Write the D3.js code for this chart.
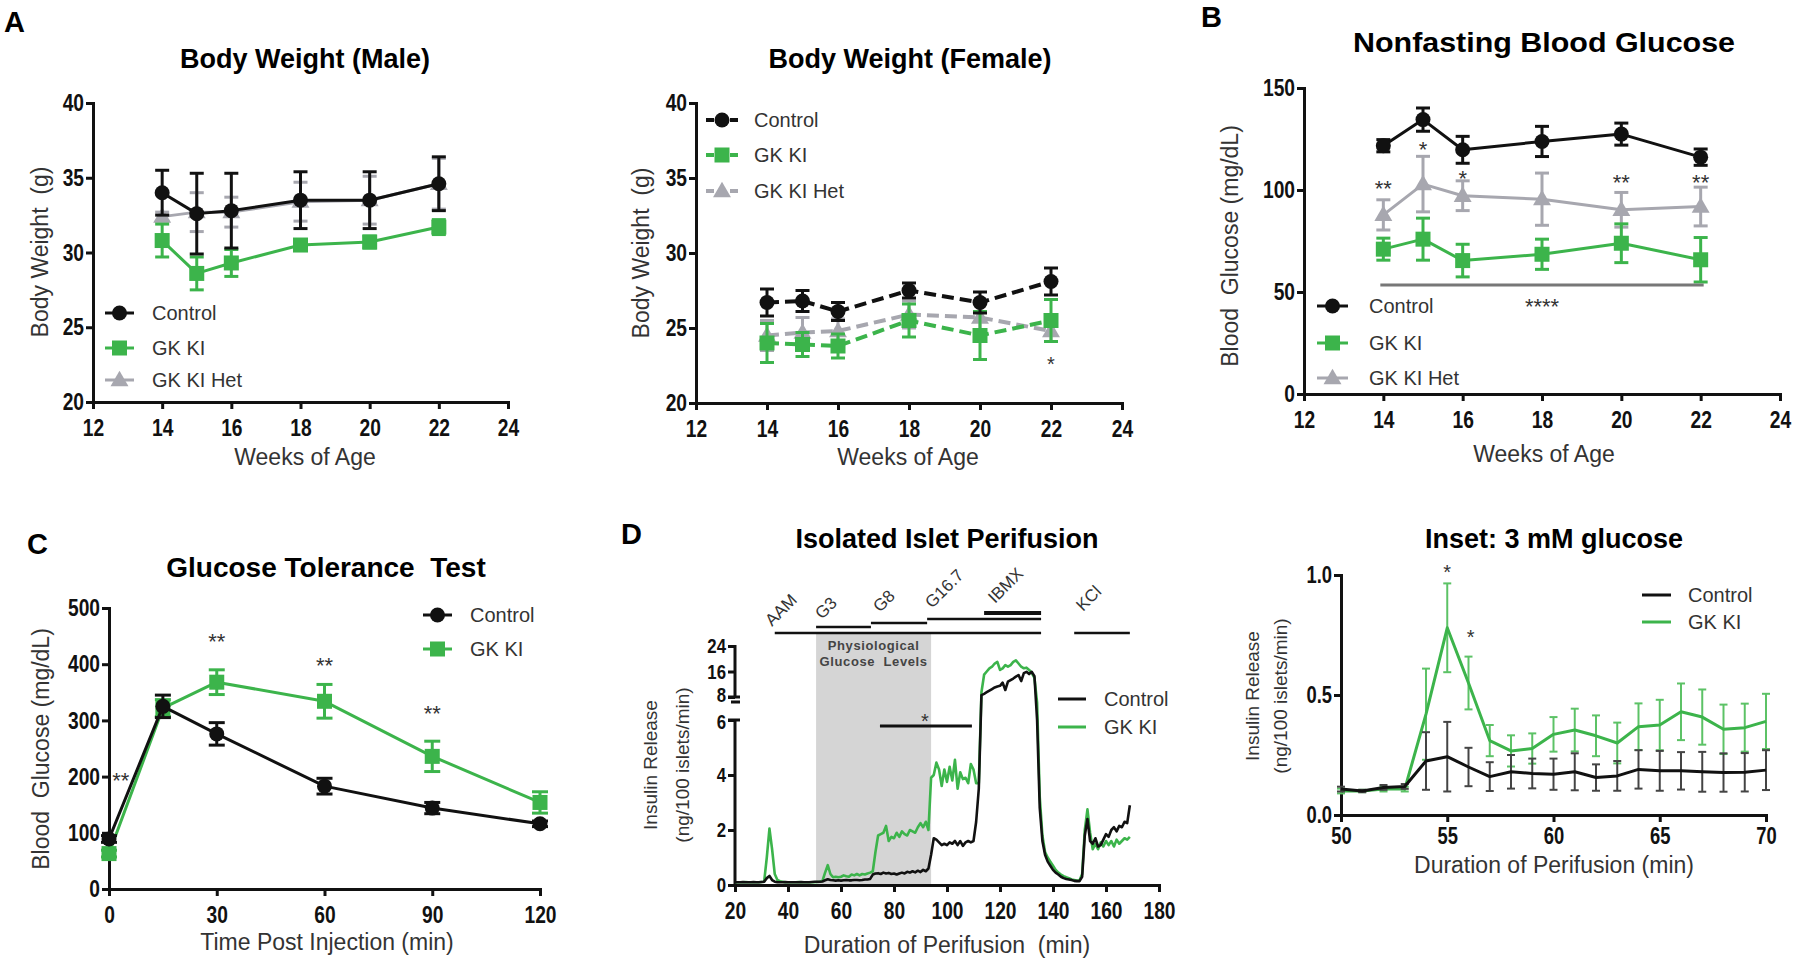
<!DOCTYPE html>
<html><head><meta charset="utf-8">
<script src="https://cdn.jsdelivr.net/npm/d3@7/dist/d3.min.js"></script>
<style>html,body{margin:0;padding:0;background:#fff;} svg{display:block} text{white-space:pre}</style>
</head><body>
<script>
// ================= DATA =================
const weeks = [14, 15, 16, 18, 20, 22];
const ageTicks = [12, 14, 16, 18, 20, 22, 24];
const bwTicks = [20, 25, 30, 35, 40];

const maleControl = [34.0, 32.6, 32.8, 33.5, 33.5, 34.6];
const maleControlSem = [1.5, 2.7, 2.5, 1.9, 1.9, 1.8];
const maleGK = [30.8, 28.6, 29.3, 30.5, 30.7, 31.7];
const maleGKSem = [1.1, 1.1, 0.9, 0.3, 0.4, 0.5];
const maleHet = [32.4, 32.7, 32.7, 33.4, 33.5, 34.6];
const maleHetSem = [0.3, 1.3, 1.0, 1.3, 1.6, 1.7];

const femaleControl = [26.7, 26.8, 26.1, 27.5, 26.7, 28.1];
const femaleControlSem = [0.9, 0.7, 0.6, 0.5, 0.7, 0.9];
const femaleGK = [24.0, 23.9, 23.8, 25.5, 24.5, 25.5];
const femaleGKSem = [1.3, 0.8, 0.8, 1.1, 1.6, 1.4];
const femaleHet = [24.5, 24.7, 24.8, 25.9, 25.7, 24.8];
const femaleHetSem = [1.0, 1.0, 0.8, 0.9, 1.0, 0.7];

const bgTicks = [0, 50, 100, 150];
const bgControl = [121.7, 134.5, 119.7, 123.8, 127.4, 116.1];
const bgControlSem = [3.0, 5.7, 6.6, 7.4, 5.4, 4.0];
const bgGK = [71.0, 75.9, 65.4, 68.5, 73.9, 65.8];
const bgGKSem = [5.4, 10.3, 8.0, 7.4, 9.5, 10.9];
const bgHet = [87.8, 102.9, 97.2, 95.5, 90.3, 91.9];
const bgHetSem = [7.4, 13.6, 7.3, 12.8, 8.5, 9.5];
const bgStars = [{w: 14, t: '**', v: 103}, {w: 15, t: '*', v: 122}, {w: 16, t: '*', v: 108}, {w: 20, t: '**', v: 106}, {w: 22, t: '**', v: 106}];

const gttTime = [0, 15, 30, 60, 90, 120];
const gttXTicks = [0, 30, 60, 90, 120];
const gttYTicks = [0, 100, 200, 300, 400, 500];
const gttControl = [89, 325, 276, 183, 144, 116];
const gttControlSem = [6, 20, 20, 14, 10, 5];
const gttGK = [63, 322, 368, 334, 236, 154];
const gttGKSem = [6, 15, 22, 30, 27, 19];
const gttStars = [{t: 3.3, v: 201}, {t: 30, v: 448}, {t: 60, v: 406}, {t: 90, v: 320}];

const perifStart = 20; // minutes, one sample per minute
const perifXTicks = [20, 40, 60, 80, 100, 120, 140, 160, 180];
const perifYTicks = [0, 2, 4, 6, 8, 16, 24];
const perifControl = [
  0.10,0.10,0.10,0.11,0.10,0.10,0.10,0.11,0.10,0.10,
  0.11,0.12,0.25,0.33,0.18,0.12,0.10,0.10,0.10,0.11,
  0.10,0.10,0.10,0.10,0.10,0.11,0.10,0.10,0.10,0.11,
  0.12,0.12,0.12,0.13,0.17,0.21,0.18,0.17,0.16,0.17,
  0.16,0.17,0.18,0.17,0.17,0.18,0.18,0.17,0.18,0.20,
  0.20,0.22,0.38,0.42,0.43,0.40,0.45,0.42,0.44,0.40,
  0.42,0.38,0.42,0.45,0.42,0.48,0.45,0.50,0.46,0.52,
  0.47,0.55,0.50,0.60,1.10,1.70,1.65,1.55,1.45,1.50,
  1.45,1.55,1.50,1.60,1.45,1.60,1.42,1.55,1.60,1.55,
  1.60,2.30,3.50,8.6,9.0,9.5,10.0,10.5,11.0,11.3,
  11.5,12.5,10.2,12.8,13.3,13.8,14.4,14.9,13.0,15.5,
  15.9,15.2,15.9,14.5,6.0,2.8,1.6,1.1,0.85,0.70,
  0.55,0.45,0.38,0.30,0.25,0.22,0.20,0.18,0.15,0.14,
  0.14,0.30,1.80,2.40,1.60,1.50,1.70,1.40,1.45,1.65,
  1.85,1.75,2.00,2.10,1.95,2.15,2.10,2.30,2.25,2.90
];
const perifGK = [
  0.10,0.10,0.10,0.10,0.11,0.10,0.10,0.10,0.10,0.10,
  0.11,0.12,1.00,2.05,1.30,0.40,0.18,0.14,0.12,0.10,
  0.10,0.10,0.10,0.10,0.11,0.10,0.10,0.10,0.10,0.10,
  0.10,0.11,0.12,0.15,0.45,0.72,0.40,0.28,0.30,0.28,
  0.30,0.35,0.32,0.30,0.38,0.35,0.40,0.35,0.40,0.38,
  0.42,0.45,0.50,1.20,1.80,1.85,1.90,2.15,1.60,1.75,
  1.70,1.90,1.75,1.95,1.85,1.80,2.00,1.95,1.90,2.10,
  2.25,2.10,2.30,2.00,3.90,4.00,4.45,4.20,3.60,4.20,
  3.75,4.30,3.80,4.55,3.50,4.10,3.85,3.90,3.70,4.40,
  4.20,3.70,3.70,9.5,15.0,16.0,17.0,17.5,18.5,19.0,
  16.5,17.0,18.0,17.5,18.0,19.0,19.5,18.5,17.5,17.0,
  17.2,16.5,15.5,14.0,7.5,3.2,1.8,1.2,1.0,0.85,
  0.70,0.55,0.45,0.38,0.32,0.28,0.25,0.20,0.18,0.16,
  0.16,0.40,2.00,2.75,1.90,1.30,1.50,1.30,1.55,1.40,
  1.60,1.45,1.60,1.40,1.65,1.50,1.60,1.70,1.65,1.75
];
const perifBars = [
  {label: 'AAM', from: 35, to: 135.5, y: 633},
  {label: 'G3', from: 50.6, to: 71.3, y: 627},
  {label: 'G8', from: 71.3, to: 92.5, y: 623},
  {label: 'G16.7', from: 92.5, to: 135.5, y: 619},
  {label: 'IBMX', from: 114, to: 135.5, y: 613},
  {label: 'KCl', from: 148, to: 169, y: 633}
];
const perifShade = [50.6, 94];
const perifSigBar = [74.7, 109.4];

const insetTime = [50,51,52,53,54,55,56,57,58,59,60,61,62,63,64,65,66,67,68,69,70];
const insetXTicks = [50, 55, 60, 65, 70];
const insetYTicks = [0, 0.5, 1.0];
const insetControl = [0.108,0.100,0.115,0.119,0.225,0.243,0.200,0.160,0.180,0.173,0.170,0.180,0.156,0.163,0.190,0.184,0.184,0.180,0.177,0.178,0.187];
const insetControlSem = [0.010,0.005,0.010,0.010,0.120,0.145,0.080,0.060,0.070,0.062,0.065,0.077,0.055,0.062,0.080,0.083,0.078,0.083,0.080,0.080,0.083];
const insetGK = [0.100,0.100,0.108,0.108,0.420,0.780,0.550,0.310,0.267,0.277,0.336,0.354,0.330,0.300,0.368,0.375,0.430,0.408,0.357,0.364,0.390];
const insetGKSem = [0.010,0.005,0.010,0.010,0.190,0.185,0.110,0.065,0.065,0.063,0.072,0.089,0.085,0.085,0.097,0.105,0.118,0.115,0.103,0.100,0.115];
const insetStars = [{t: 55, v: 1.03}, {t: 56.1, v: 0.76}];

// ================= DRAWING =================
const svg = d3.select('body').append('svg').attr('width', 1800).attr('height', 960);
svg.append('rect').attr('width', 1800).attr('height', 960).attr('fill', '#fff');
const SANS = "'Liberation Sans', Arial, Helvetica, sans-serif";
const INK = '#111', GREEN = '#3cb44b', HETGRAY = '#a7a7af', LABEL = '#333';
const NARROW_K = 0.8;

function txt(x, y, s, o = {}) {
  const t = svg.append('text').attr('x', x).attr('y', y).text(s)
    .attr('font-family', SANS).attr('font-size', o.size || 20)
    .attr('font-weight', o.weight || 'normal').attr('fill', o.fill || LABEL)
    .attr('text-anchor', o.anchor || 'start');
  if (o.rotate) t.attr('transform', `rotate(${o.rotate},${x},${y})`);
  if (o.len) t.attr('textLength', o.len).attr('lengthAdjust', 'spacingAndGlyphs');
  if (o.ls) t.attr('letter-spacing', o.ls);
  return t;
}
function title(cx, by, s, size, len) { return txt(cx, by, s, {size, weight: 'bold', anchor: 'middle', fill: '#000', len}); }
function panelLetter(x, by, s) { return txt(x, by, s, {size: 29, weight: 'bold', fill: '#000'}); }
function yTitle(cx, cy, s, size) { return txt(cx, cy, s, {size: size || 23, anchor: 'middle', rotate: -90}).attr('dy', '0.35em'); }
function xTitle(cx, by, s) { return txt(cx, by, s, {size: 23, anchor: 'middle'}); }
function star(x, cy, s, size) { return txt(x, cy, s, {size: size || 22, anchor: 'middle'}).attr('dy', '0.55em'); }

function styleAxis(g, side, fs) {
  g.select('.domain').attr('stroke', INK).attr('stroke-width', 3).attr('stroke-linecap', 'square');
  g.selectAll('.tick line').attr('stroke', INK).attr('stroke-width', 3);
  const t = g.selectAll('.tick text').attr('fill', INK).attr('font-family', SANS).attr('font-weight', 'bold')
    .attr('font-size', fs || 24).attr('transform', `scale(${NARROW_K},1)`);
  if (side === 'left') t.attr('x', -9 / NARROW_K);
  return t;
}
function drawAxes(sx, sy, xt, yt, xf, yf, o = {}) {
  const gx = svg.append('g').attr('transform', `translate(0,${sy.range()[0]})`)
    .call(d3.axisBottom(sx).tickValues(xt).tickSize(7).tickSizeOuter(0).tickPadding(o.xpad ?? 10).tickFormat(xf || d3.format('d')));
  const gy = svg.append('g').attr('transform', `translate(${sx.range()[0]},0)`)
    .call(d3.axisLeft(sy).tickValues(yt).tickSize(7).tickSizeOuter(0).tickPadding(2).tickFormat(yf || d3.format('d')));
  styleAxis(gx, 'bottom', o.fs); styleAxis(gy, 'left', o.fs);
  return {gx, gy};
}
function marker(g, type, x, y, color, size) {
  if (type === 'circle') g.append('circle').attr('cx', x).attr('cy', y).attr('r', size / 2).attr('fill', color);
  else if (type === 'square') g.append('rect').attr('x', x - size / 2).attr('y', y - size / 2).attr('width', size).attr('height', size).attr('fill', color);
  else if (type === 'triangle') g.append('path').attr('d', d3.symbol(d3.symbolTriangle, size * size * 0.62)()).attr('transform', `translate(${x},${y + 1})`).attr('fill', color);
}
function series(sx, sy, xs, vs, es, o) {
  const g = svg.append('g');
  const color = o.color, cap = o.cap ?? 14, ew = o.ew ?? 3, ec = o.ecolor || color;
  if (es) xs.forEach((t, i) => {
    const X = sx(t), Y1 = sy(vs[i] + es[i]), Y2 = sy(vs[i] - es[i]);
    g.append('line').attr('x1', X).attr('x2', X).attr('y1', Y1).attr('y2', Y2).attr('stroke', ec).attr('stroke-width', ew);
    [Y1, Y2].forEach(Yc => g.append('line').attr('x1', X - cap / 2).attr('x2', X + cap / 2).attr('y1', Yc).attr('y2', Yc).attr('stroke', ec).attr('stroke-width', ew));
  });
  const line = d3.line().x((d, i) => sx(xs[i])).y(d => sy(d));
  g.append('path').attr('d', line(vs)).attr('fill', 'none').attr('stroke', color)
    .attr('stroke-width', o.lw ?? 3).attr('stroke-dasharray', o.dash || null).attr('stroke-linejoin', 'round');
  if (o.marker) xs.forEach((t, i) => marker(g, o.marker, sx(t), sy(vs[i]), color, o.msize ?? 15));
}
function legend(x1, x2, y, tx, label, o) {
  svg.append('line').attr('x1', x1).attr('x2', x2).attr('y1', y).attr('y2', y).attr('stroke', o.color)
    .attr('stroke-width', o.lw ?? 3).attr('stroke-dasharray', o.dash || null);
  if (o.marker) marker(svg, o.marker, (x1 + x2) / 2, y, o.color, o.msize ?? 15);
  txt(tx, y, label, {size: 20}).attr('dy', '0.36em');
}

// ---------- Panel A: male ----------
panelLetter(4, 32, 'A');
title(305, 68, 'Body Weight (Male)', 27);
const xM = d3.scaleLinear().domain([12, 24]).range([93, 508]);
const yM = d3.scaleLinear().domain([20, 40]).range([402, 103]);
drawAxes(xM, yM, ageTicks, bwTicks);
series(xM, yM, weeks, maleHet, maleHetSem, {color: HETGRAY, marker: 'triangle'});
series(xM, yM, weeks, maleGK, maleGKSem, {color: GREEN, marker: 'square'});
series(xM, yM, weeks, maleControl, maleControlSem, {color: INK, marker: 'circle'});
legend(105, 134, 313, 152, 'Control', {color: INK, marker: 'circle'});
legend(105, 134, 348, 152, 'GK KI', {color: GREEN, marker: 'square'});
legend(105, 134, 380, 152, 'GK KI Het', {color: HETGRAY, marker: 'triangle'});
xTitle(305, 465, 'Weeks of Age');
yTitle(40, 252, 'Body Weight  (g)');

// ---------- Panel A: female ----------
title(910, 68, 'Body Weight (Female)', 27);
const xF = d3.scaleLinear().domain([12, 24]).range([696, 1122]);
const yF = d3.scaleLinear().domain([20, 40]).range([403, 103]);
drawAxes(xF, yF, ageTicks, bwTicks);
const DASH = '12,6';
series(xF, yF, weeks, femaleHet, femaleHetSem, {color: HETGRAY, marker: 'triangle', dash: DASH, lw: 4});
series(xF, yF, weeks, femaleGK, femaleGKSem, {color: GREEN, marker: 'square', dash: DASH, lw: 4});
series(xF, yF, weeks, femaleControl, femaleControlSem, {color: INK, marker: 'circle', dash: DASH, lw: 4});
legend(706, 738, 120, 754, 'Control', {color: INK, marker: 'circle', dash: '8,4', lw: 4});
legend(706, 738, 155, 754, 'GK KI', {color: GREEN, marker: 'square', dash: '8,4', lw: 4});
legend(706, 738, 191, 754, 'GK KI Het', {color: HETGRAY, marker: 'triangle', dash: '8,4', lw: 4});
star(xF(22), yF(22.87), '*', 20);
xTitle(908, 465, 'Weeks of Age');
yTitle(641, 253, 'Body Weight  (g)');

// ---------- Panel B ----------
panelLetter(1201, 27, 'B');
title(1544, 52, 'Nonfasting Blood Glucose', 28, 382);
const xB = d3.scaleLinear().domain([12, 24]).range([1304, 1780]);
const yB = d3.scaleLinear().domain([0, 150]).range([394, 88]);
drawAxes(xB, yB, ageTicks, bgTicks);
series(xB, yB, weeks, bgHet, bgHetSem, {color: HETGRAY, marker: 'triangle'});
series(xB, yB, weeks, bgGK, bgGKSem, {color: GREEN, marker: 'square'});
series(xB, yB, weeks, bgControl, bgControlSem, {color: INK, marker: 'circle'});
bgStars.forEach(s => star(xB(s.w), yB(s.v), s.t, 22));
svg.append('line').attr('x1', xB(weeks[0]) - 3).attr('x2', xB(weeks[weeks.length - 1]) + 3)
  .attr('y1', yB(53.4)).attr('y2', yB(53.4)).attr('stroke', '#777').attr('stroke-width', 3);
star(xB(18), yB(45.1), '****', 22);
legend(1317, 1348, 306, 1369, 'Control', {color: INK, marker: 'circle'});
legend(1317, 1348, 343, 1369, 'GK KI', {color: GREEN, marker: 'square'});
legend(1317, 1348, 378, 1369, 'GK KI Het', {color: HETGRAY, marker: 'triangle'});
xTitle(1544, 462, 'Weeks of Age');
yTitle(1230, 246, 'Blood  Glucose (mg/dL)');

// ---------- Panel C ----------
panelLetter(27, 554, 'C');
title(326, 577, 'Glucose Tolerance  Test', 28);
const xC = d3.scaleLinear().domain([0, 120]).range([109, 540]);
const yC = d3.scaleLinear().domain([0, 500]).range([889, 608]);
drawAxes(xC, yC, gttXTicks, gttYTicks);
series(xC, yC, gttTime, gttGK, gttGKSem, {color: GREEN, marker: 'square', cap: 16});
series(xC, yC, gttTime, gttControl, gttControlSem, {color: INK, marker: 'circle', cap: 16});
gttStars.forEach(s => star(xC(s.t), yC(s.v), '**', 22));
legend(423, 452, 615, 470, 'Control', {color: INK, marker: 'circle'});
legend(423, 452, 649, 470, 'GK KI', {color: GREEN, marker: 'square'});
xTitle(327, 950, 'Time Post Injection (min)');
yTitle(41, 749, 'Blood  Glucose (mg/dL)');

// ---------- Panel D: perifusion ----------
panelLetter(621, 544, 'D');
title(947, 548, 'Isolated Islet Perifusion', 27);
const xD = d3.scaleLinear().domain([20, 180]).range([735, 1159]);
const yD = d3.scaleLinear().domain([0, 6, 8, 24]).range([885, 720, 697, 646]);
svg.append('rect').attr('x', xD(perifShade[0])).attr('width', xD(perifShade[1]) - xD(perifShade[0]))
  .attr('y', 633).attr('height', yD(0) - 633).attr('fill', '#d5d5d5');
txt(xD(72.3), 650, 'Physiological', {size: 13, weight: 'bold', anchor: 'middle', fill: '#444', ls: 0.6});
txt(xD(72.3), 666, 'Glucose  Levels', {size: 13, weight: 'bold', anchor: 'middle', fill: '#444', ls: 0.6});
{
  const gx = svg.append('g').attr('transform', `translate(0,${yD(0)})`)
    .call(d3.axisBottom(xD).tickValues(perifXTicks).tickSize(7).tickSizeOuter(0).tickPadding(10).tickFormat(d3.format('d')));
  styleAxis(gx, 'bottom');
  const gy = svg.append('g').attr('transform', `translate(${xD(20)},0)`)
    .call(d3.axisLeft(yD).tickValues(perifYTicks).tickSize(7).tickSizeOuter(0).tickPadding(2).tickFormat(d3.format('d')));
  styleAxis(gy, 'left', 21);
  gy.selectAll('.tick text').filter(d => d === 8).attr('dy', '0.2em');
  gy.selectAll('.tick text').filter(d => d === 6).attr('dy', '0.42em');
  gy.select('.domain').remove();
  const ax = xD(20);
  [[0, 6], [8, 24]].forEach(([a, b]) => svg.append('line').attr('x1', ax).attr('x2', ax)
    .attr('y1', yD(a) + 1).attr('y2', yD(b) - 1).attr('stroke', INK).attr('stroke-width', 3));
  svg.append('line').attr('x1', ax - 7).attr('x2', ax + 5).attr('y1', yD(6)).attr('y2', yD(6)).attr('stroke', INK).attr('stroke-width', 3);
  svg.append('line').attr('x1', ax - 7).attr('x2', ax + 5).attr('y1', yD(8)).attr('y2', yD(8)).attr('stroke', INK).attr('stroke-width', 3);
  svg.append('line').attr('x1', ax - 4).attr('x2', ax + 5).attr('y1', yD(8) + 5).attr('y2', yD(8) + 5).attr('stroke', INK).attr('stroke-width', 3);
}
const perifLine = d3.line().x((d, i) => xD(perifStart + i)).y(d => yD(d));
svg.append('path').attr('d', perifLine(perifGK)).attr('fill', 'none').attr('stroke', GREEN).attr('stroke-width', 2.6).attr('stroke-linejoin', 'round');
svg.append('path').attr('d', perifLine(perifControl)).attr('fill', 'none').attr('stroke', INK).attr('stroke-width', 2.6).attr('stroke-linejoin', 'round');
perifBars.forEach(b => {
  svg.append('line').attr('x1', xD(b.from)).attr('x2', xD(b.to)).attr('y1', b.y).attr('y2', b.y)
    .attr('stroke', INK).attr('stroke-width', b.label === 'IBMX' ? 4 : 2.5);
});
const barLabelPos = {AAM: [772, 627], G3: [822, 620], G8: [880, 613], 'G16.7': [932, 609], IBMX: [995, 604], KCl: [1083, 612]};
perifBars.forEach(b => {
  const p = barLabelPos[b.label];
  txt(p[0], p[1], b.label, {size: 17, rotate: -45});
});
svg.append('line').attr('x1', xD(perifSigBar[0])).attr('x2', xD(perifSigBar[1])).attr('y1', yD(5.78)).attr('y2', yD(5.78))
  .attr('stroke', INK).attr('stroke-width', 3);
star(xD(91.7), 717, '*', 20);
legend(1058, 1086, 699, 1104, 'Control', {color: INK});
legend(1058, 1086, 727, 1104, 'GK KI', {color: GREEN});
xTitle(947, 953, 'Duration of Perifusion  (min)');
yTitle(650, 765, 'Insulin Release', 19);
yTitle(682, 765, '(ng/100 islets/min)', 19);

// ---------- Inset ----------
title(1554, 548, 'Inset: 3 mM glucose', 27);
const xI = d3.scaleLinear().domain([50, 70]).range([1341, 1766]);
const yI = d3.scaleLinear().domain([0, 1]).range([815, 575]);
drawAxes(xI, yI, insetXTicks, insetYTicks, d3.format('d'), d3.format('.1f'), {fs: 23, xpad: 6});
series(xI, yI, insetTime, insetGK, insetGKSem, {color: GREEN, ecolor: '#5cc266', cap: 8, ew: 2, lw: 3});
series(xI, yI, insetTime, insetControl, insetControlSem, {color: INK, ecolor: '#444', cap: 8, ew: 2, lw: 3});
insetStars.forEach(s => star(xI(s.t), yI(s.v), '*', 20));
legend(1642, 1671, 595, 1688, 'Control', {color: INK});
legend(1642, 1671, 622, 1688, 'GK KI', {color: GREEN});
xTitle(1554, 873, 'Duration of Perifusion (min)');
yTitle(1252, 696, 'Insulin Release', 19);
yTitle(1280, 696, '(ng/100 islets/min)', 19);
</script>
</body></html>
